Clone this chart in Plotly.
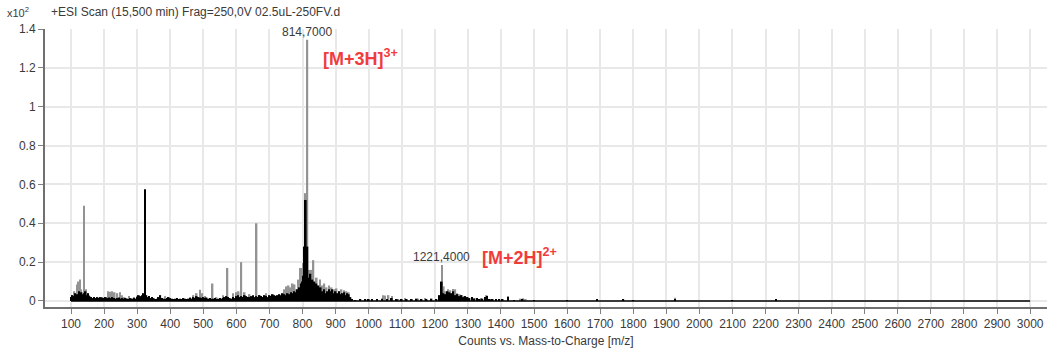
import plotly.graph_objects as go

# ---- spectrum data (intensity in units of x10^2 counts) ----
# lighter trace
gray_mz = [105, 110, 115, 119, 123, 127, 131, 139, 145, 150, 155,
           205, 212, 218, 224, 232, 240, 248, 254, 262, 275, 290, 300,
           385, 395, 460, 470, 480, 490, 497, 505,
           528, 540, 560, 573, 590, 600, 607, 615, 625, 640, 661, 670, 690,
           745, 752, 758, 764, 770, 776, 782, 788, 793, 798, 803, 810, 814.7,
           820, 828, 833, 843, 853, 860, 866, 873, 880, 888, 895, 903, 910,
           918, 925, 933, 940,
           1000, 1043, 1050, 1060, 1071, 1090, 1110, 1130, 1150, 1170,
           1221.4, 1227, 1233, 1240, 1247, 1255, 1262, 1268, 1275, 1283,
           1290, 1300, 1320, 1340, 1357, 1370, 1421, 1460, 1467, 1475,
           1600, 1926]
gray_int = [0.03, 0.05, 0.04, 0.085, 0.10, 0.11, 0.06, 0.49, 0.06, 0.04, 0.03,
            0.02, 0.05, 0.048, 0.05, 0.045, 0.04, 0.045, 0.03, 0.02, 0.025, 0.02, 0.025,
            0.025, 0.02, 0.02, 0.03, 0.04, 0.058, 0.04, 0.025,
            0.09, 0.02, 0.03, 0.17, 0.04, 0.045, 0.05, 0.20, 0.045, 0.035, 0.40, 0.03, 0.04,
            0.06, 0.075, 0.08, 0.07, 0.09, 0.085, 0.06, 0.11, 0.17, 0.17, 0.195, 0.555, 1.345,
            0.16, 0.16, 0.21, 0.12, 0.11, 0.08, 0.09, 0.07, 0.08, 0.07, 0.06, 0.065, 0.05,
            0.06, 0.055, 0.05, 0.045,
            0.01, 0.03, 0.028, 0.03, 0.025, 0.01, 0.015, 0.01, 0.012, 0.015,
            0.185, 0.075, 0.05, 0.06, 0.055, 0.062, 0.06, 0.04, 0.035, 0.03,
            0.025, 0.02, 0.015, 0.015, 0.03, 0.01, 0.025, 0.012, 0.014, 0.01,
            0.003, 0.017]

# darker trace
black_mz = [100, 104, 108, 112, 116, 120, 124, 128, 132, 136, 140, 144, 148, 152, 156, 160,
            165, 170, 175, 180, 185, 190, 195, 200, 205, 210, 215, 220, 225, 230, 235, 240,
            245, 250, 255, 260, 265, 270, 275, 280, 285, 290, 295, 300, 305, 310, 315, 320,
            324, 328, 332, 336, 340, 345, 350, 355, 360, 365, 370, 375, 380, 385, 390, 395,
            400, 405, 410, 415, 420, 425, 430, 435, 440, 445, 450, 455, 460, 465, 470, 475,
            480, 485, 490, 495, 500, 505, 510, 515, 520, 525, 530, 535, 540, 545, 550, 555,
            560, 565, 570, 575, 580, 585, 590, 595, 600, 605, 610, 615, 620, 625, 630, 635,
            640, 645, 650, 655, 660, 665, 670, 675, 680, 685, 690, 695, 700, 705, 710, 715,
            720, 725, 730, 735, 740, 745, 750, 755, 760, 765, 770, 775, 780, 785, 790, 795,
            800, 803, 806, 810, 815, 818, 821, 824, 827, 830, 833, 836, 839, 842, 845, 848,
            851, 855, 860, 865, 870, 875, 880, 885, 890, 895, 900, 905, 910, 915, 920, 925,
            930, 935, 940, 945, 950,
            960, 975, 990, 1000, 1010, 1025, 1040, 1055, 1070, 1085, 1100, 1115, 1130, 1145,
            1160, 1175, 1190, 1205, 1215, 1221, 1226, 1232, 1238, 1244, 1250, 1256, 1262,
            1268, 1274, 1280, 1286, 1292, 1298, 1305, 1312, 1320, 1328, 1336, 1344, 1352,
            1358, 1366, 1375, 1385, 1395, 1405, 1421, 1440, 1465, 1500, 1600, 1690, 1770,
            1800, 1926, 2100, 2232]
black_int = [0.02, 0.03, 0.025, 0.04, 0.03, 0.035, 0.05, 0.03, 0.045, 0.035, 0.04, 0.05, 0.03, 0.04, 0.025, 0.02,
             0.015, 0.02, 0.015, 0.02, 0.015, 0.02, 0.018, 0.015, 0.02, 0.015, 0.018, 0.015, 0.02, 0.015, 0.012, 0.015,
             0.018, 0.012, 0.015, 0.012, 0.015, 0.012, 0.01, 0.015, 0.012, 0.015, 0.012, 0.02, 0.03, 0.025, 0.03, 0.04,
             0.575, 0.03, 0.02, 0.025, 0.015, 0.02, 0.015, 0.01, 0.012, 0.02, 0.03, 0.015, 0.012, 0.01, 0.015, 0.02,
             0.015, 0.012, 0.01, 0.012, 0.015, 0.01, 0.012, 0.01, 0.015, 0.012, 0.01, 0.012, 0.015, 0.012, 0.02, 0.015,
             0.025, 0.02, 0.018, 0.015, 0.02, 0.015, 0.018, 0.012, 0.015, 0.01, 0.012, 0.015, 0.01, 0.012, 0.015, 0.012,
             0.015, 0.02, 0.025, 0.02, 0.015, 0.012, 0.02, 0.015, 0.025, 0.03, 0.02, 0.025, 0.02, 0.03, 0.025, 0.02,
             0.02, 0.025, 0.03, 0.02, 0.025, 0.02, 0.03, 0.025, 0.02, 0.03, 0.025, 0.02, 0.03, 0.025, 0.035, 0.03,
             0.025, 0.03, 0.035, 0.03, 0.04, 0.035, 0.03, 0.04, 0.035, 0.045, 0.04, 0.05, 0.045, 0.06, 0.07, 0.09,
             0.10, 0.13, 0.28, 0.52, 0.28, 0.12, 0.10, 0.14, 0.09, 0.11, 0.08, 0.10, 0.07, 0.09, 0.06, 0.08,
             0.05, 0.07, 0.05, 0.06, 0.04, 0.05, 0.06, 0.05, 0.06, 0.04, 0.05, 0.04, 0.05, 0.035, 0.04, 0.045,
             0.03, 0.04, 0.035, 0.02, 0.01,
             0.005, 0.008, 0.01, 0.006, 0.008, 0.01, 0.012, 0.01, 0.015, 0.008, 0.006, 0.01, 0.008, 0.012,
             0.007, 0.01, 0.012, 0.01, 0.03, 0.10, 0.04, 0.035, 0.05, 0.045, 0.04, 0.05, 0.03,
             0.035, 0.025, 0.03, 0.02, 0.025, 0.02, 0.015, 0.02, 0.012, 0.015, 0.01, 0.012, 0.02,
             0.025, 0.01, 0.008, 0.01, 0.008, 0.01, 0.02, 0.005, 0.008, 0.004, 0.003, 0.006, 0.006,
             0.003, 0.008, 0.002, 0.006]

scan_range = [100, 3000]

# labelled peaks: (m/z, intensity, value text, ion text)
peak_mz = [814.7, 1221.4]
peak_int = [1.345, 0.185]
peak_text = ["814,7000", "1221,4000"]
ion_text = ["[M+3H]<sup>3+</sup>", "[M+2H]<sup>2+</sup>"]

x_ticks = list(range(100, 3001, 100))
y_ticks = [0, 0.2, 0.4, 0.6, 0.8, 1.0, 1.2, 1.4]
y_tick_text = ["0", "0.2", "0.4", "0.6", "0.8", "1", "1.2", "1.4"]

FONT = "Arial, Liberation Sans, sans-serif"
TEXT_COLOR = "#3a3a3a"
BAR_W = 5

fig = go.Figure()
fig.add_trace(go.Bar(x=gray_mz, y=gray_int, width=BAR_W,
                     marker=dict(color="#939393", line_width=0, opacity=1),
                     hoverinfo="skip"))
fig.add_trace(go.Bar(x=black_mz, y=black_int, width=BAR_W,
                     marker=dict(color="#000000", line_width=0, opacity=1),
                     hoverinfo="skip"))
fig.add_trace(go.Scatter(x=scan_range, y=[0, 0], mode="lines",
                         line=dict(color="#000000", width=1.6), hoverinfo="skip"))

annotations = []
for mz, h, vt in zip(peak_mz, peak_int, peak_text):
    annotations.append(dict(x=mz, y=h, xref="x", yref="y", text=vt, showarrow=False,
                            xanchor="center", yanchor="bottom", yshift=-1,
                            font=dict(family=FONT, size=12, color=TEXT_COLOR)))
for mz, h, it, dx, dy in zip(peak_mz, peak_int, ion_text, [14, 38], [-18, 9]):
    annotations.append(dict(x=mz, y=h, xref="x", yref="y", text="<b>" + it + "</b>",
                            showarrow=False, xanchor="left", yanchor="middle",
                            xshift=dx, yshift=dy,
                            font=dict(family=FONT, size=18, color="#f03c3c")))

# header line above the plot
annotations.append(dict(x=-0.04, y=1.062, xref="paper", yref="paper",
                        text="x10<sup>2</sup>", showarrow=False,
                        xanchor="left", yanchor="middle",
                        font=dict(family=FONT, size=11, color=TEXT_COLOR)))
annotations.append(dict(x=0.004, y=1.062, xref="paper", yref="paper",
                        text="+ESI Scan (15,500 min) Frag=250,0V 02.5uL-250FV.d",
                        showarrow=False, xanchor="left", yanchor="middle",
                        font=dict(family=FONT, size=12, color=TEXT_COLOR)))

fig.update_layout(
    width=1049, height=356, autosize=False,
    margin=dict(l=45, r=2, t=29, b=49),
    paper_bgcolor="white", plot_bgcolor="white",
    barmode="overlay", showlegend=False,
    font=dict(family=FONT, size=12, color=TEXT_COLOR),
    annotations=annotations,
    xaxis=dict(range=[21.4, 3051], tickvals=x_ticks, ticktext=[str(v) for v in x_ticks],
               showgrid=True, gridcolor="#e8e8e8", gridwidth=1.5, zeroline=False,
               showline=True, linecolor="#707070", linewidth=2,
               ticks="outside", ticklen=5, tickcolor="#808080",
               tickfont=dict(family=FONT, size=12, color=TEXT_COLOR),
               title=dict(text="Counts vs. Mass-to-Charge [m/z]", standoff=6,
                          font=dict(family=FONT, size=12, color=TEXT_COLOR))),
    yaxis=dict(range=[-0.031, 1.4], tickvals=y_ticks, ticktext=y_tick_text,
               showgrid=True, gridcolor="#e8e8e8", gridwidth=1.5, zeroline=False,
               showline=True, linecolor="#707070", linewidth=2,
               ticks="outside", ticklen=5, tickcolor="#808080",
               tickfont=dict(family=FONT, size=12, color=TEXT_COLOR)),
)

fig.write_html("out.html")
